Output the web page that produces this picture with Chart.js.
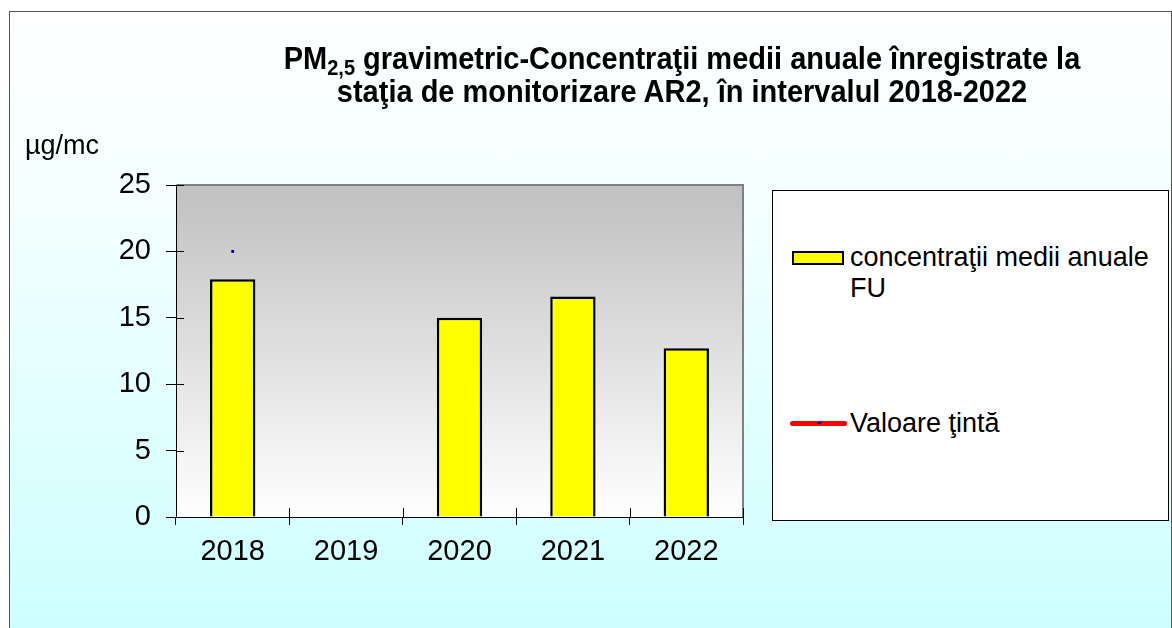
<!DOCTYPE html>
<html>
<head>
<meta charset="utf-8">
<script src="https://cdn.jsdelivr.net/npm/chart.js@4.4.0/dist/chart.umd.min.js"></script>
<style>
    html, body { margin: 0; padding: 0; background: #fff; }
    #page { position: relative; width: 1172px; height: 628px; overflow: hidden; font-family: "Liberation Sans", Arial, sans-serif; }
    #frame { position: absolute; left: 9px; top: 11px; width: 1161px; height: 640px; border: 1px solid #555; background: linear-gradient(to bottom, #ffffff 0%, #f4ffff 30%, #ccffff 100%); }
    #chart { position: absolute; left: 0; top: 0; }
    #title { position: absolute; left: 232px; width: 900px; top: 42px; text-align: center; font-weight: bold; font-size: 29px; line-height: 31px; color: #000; transform: scaleY(1.08); transform-origin: top center; }
    #title sub { font-size: 20px; vertical-align: -6px; line-height: 0; }
    #unit { position: absolute; left: 25px; top: 130px; font-size: 27px; line-height: 31px; }
    #legend { position: absolute; left: 772px; top: 190px; width: 395px; height: 329px; border: 1px solid #000; background: #fff; }
    .lg-item { position: absolute; left: 850px; width: 312px; font-size: 27px; line-height: 31px; color: #000; }
    .lg-bar { position: absolute; left: 792px; top: 251px; width: 48px; height: 10px; border: 2px solid #000; background: #ffff00; }
    .lg-line { position: absolute; left: 790px; top: 421px; width: 57px; height: 5px; border-radius: 3px; background: #ff0000; }
    .lg-dot { position: absolute; left: 817px; top: 422px; width: 4px; height: 2px; background: #000080; }
</style>
</head>
<body>
<div id="page">
    <div id="frame"></div>
    <canvas id="chart" width="1172" height="628"></canvas>
    <div id="title">PM<sub>2,5</sub> gravimetric-Concentraţii medii anuale înregistrate la<br>staţia de monitorizare AR2, în intervalul 2018-2022</div>
    <div id="unit">µg/mc</div>
    <div id="legend"></div>
    <div id="legendItems"></div>
</div>
<script>
// Data
const years = ['2018', '2019', '2020', '2021', '2022'];
const concentratii = [17.9, null, 15.0, 16.6, 12.7];
const valoareTinta = [20, null, null, null, null];
const yMin = 0;
const yMax = 25;
const yStep = 5;

const seriesLabels = ['concentraţii medii anuale FU', 'Valoare ţintă'];

// Plot area: grey-to-white gradient with grey top/right edges
const plotBackground = {
    id: 'plotBackground',
    beforeDraw(chart) {
        const { ctx, chartArea: a } = chart;
        const g = ctx.createLinearGradient(0, a.top, 0, a.bottom);
        g.addColorStop(0, '#c0c0c0');
        g.addColorStop(1, '#ffffff');
        ctx.save();
        ctx.fillStyle = g;
        ctx.fillRect(a.left, a.top, a.right - a.left, a.bottom - a.top);
        ctx.strokeStyle = '#808080';
        ctx.lineWidth = 2;
        ctx.beginPath();
        ctx.moveTo(a.left, a.top);
        ctx.lineTo(a.right, a.top);
        ctx.lineTo(a.right, a.bottom);
        ctx.stroke();
        ctx.restore();
    }
};

// Tick marks that cross the axes into the plot area
const crossTicks = {
    id: 'crossTicks',
    afterDraw(chart) {
        const { ctx, chartArea: a, scales } = chart;
        ctx.save();
        ctx.strokeStyle = '#000';
        ctx.lineWidth = 1;
        ctx.beginPath();
        scales.y.ticks.forEach((t, i) => {
            const y = Math.round(scales.y.getPixelForTick(i)) + 0.5;
            ctx.moveTo(a.left, y);
            ctx.lineTo(a.left + 8, y);
        });
        for (let i = 0; i <= years.length; i++) {
            const x = Math.round(scales.x.getPixelForValue(i - 0.5)) + 0.5;
            ctx.moveTo(x, a.bottom);
            ctx.lineTo(x, a.bottom - 9);
        }
        ctx.stroke();
        ctx.restore();
    }
};

const ctx = document.getElementById('chart');
const chart = new Chart(ctx, {
    data: {
        labels: years,
        datasets: [{
            type: 'bar',
            label: seriesLabels[0],
            data: concentratii,
            backgroundColor: '#ffff00',
            borderColor: '#000000',
            borderWidth: 2.5,
            barPercentage: 0.4,
            categoryPercentage: 1.0
        }, {
            type: 'line',
            label: seriesLabels[1],
            data: valoareTinta,
            borderColor: '#ff0000',
            borderWidth: 5,
            pointStyle: 'rect',
            pointRadius: 2,
            pointBackgroundColor: '#000080',
            pointBorderWidth: 0,
            spanGaps: false
        }]
    },
    options: {
        responsive: false,
        devicePixelRatio: 1,
        animation: false,
        layout: { padding: { left: 10, right: 429, top: 185, bottom: 0 } },
        plugins: {
            legend: { display: false },
            title: { display: false },
            tooltip: { enabled: false }
        },
        scales: {
            x: {
                offset: true,
                grid: { offset: true, drawOnChartArea: false, drawTicks: true, tickLength: 8, color: '#000' },
                border: { color: '#000', width: 1 },
                ticks: {
                    color: '#000', padding: 10, maxRotation: 0, autoSkip: false,
                    font: { family: '"Liberation Sans", Arial, sans-serif', size: 29 }
                },
                afterFit(scale) { scale.height = 111; }
            },
            y: {
                min: yMin,
                max: yMax,
                grid: { drawOnChartArea: false, drawTicks: true, tickLength: 10, color: '#000' },
                border: { color: '#000', width: 1 },
                ticks: {
                    stepSize: yStep, color: '#000', padding: 15,
                    font: { family: '"Liberation Sans", Arial, sans-serif', size: 29 }
                },
                afterFit(scale) { scale.width = 166; }
            }
        }
    },
    plugins: [plotBackground, crossTicks]
});

// Legend built from the dataset labels
const legendItems = document.getElementById('legendItems');
legendItems.innerHTML =
    '<div class="lg-bar"></div>' +
    '<div class="lg-item" style="top:242px">' + chart.data.datasets[0].label + '</div>' +
    '<div class="lg-line"></div><div class="lg-dot"></div>' +
    '<div class="lg-item" style="top:408px">' + chart.data.datasets[1].label + '</div>';
</script>
</body>
</html>
